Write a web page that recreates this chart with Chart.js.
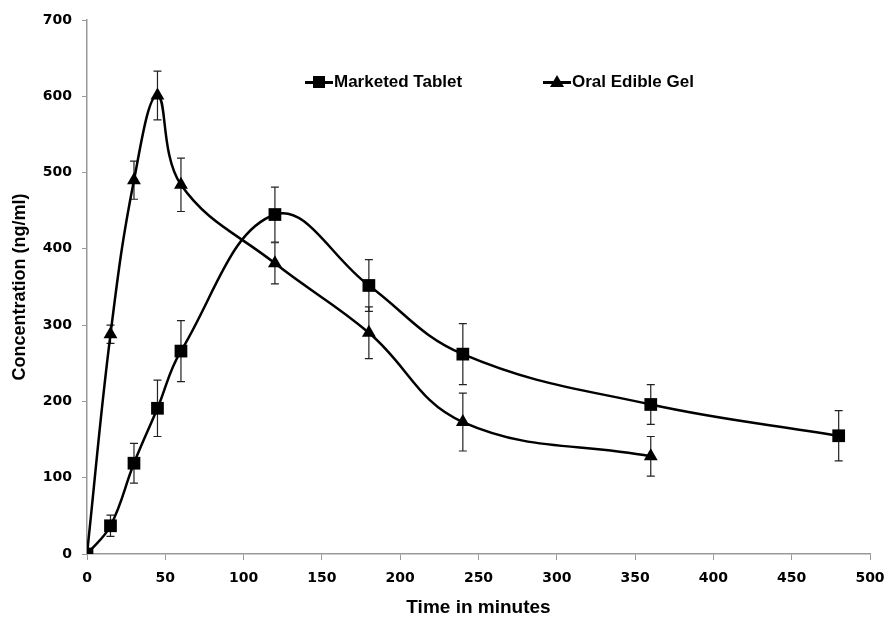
<!DOCTYPE html>
<html lang="en">
<head>
<meta charset="UTF-8">
<title>Concentration vs time</title>
<style>
    body, html {
        margin: 0;
        padding: 0;
        background: #fff;
    }
    .wrap {
        position: relative;
        width: 888px;
        height: 628px;
    }
    /* legend sits inside the plot like the excel one */
    .legend {
        position: absolute;
        top: 71px;
        left: 0;
        width: 888px;
        height: 22px;
        font-family: "Liberation Sans", Arial, sans-serif;
        font-weight: bold;
        font-size: 17px;
        color: #000;
    }
    .legend-item {
        position: absolute;
        top: 0;
        display: flex;
        align-items: center;
        height: 22px;
    }
    .legend-key {
        position: relative;
        width: 28px;
        height: 22px;
        margin-right: 1px;
    }
    .legend-key .ln {
        position: absolute;
        left: 0;
        right: 0;
        top: 10px;
        height: 3px;
        background: #000;
    }
    .legend-key .sq {
        position: absolute;
        left: 8px;
        top: 5px;
        width: 12px;
        height: 12px;
        background: #000;
    }
    .legend-key .tri {
        position: absolute;
        left: 7px;
        top: 4px;
        width: 0;
        height: 0;
        border-left: 7px solid transparent;
        border-right: 7px solid transparent;
        border-bottom: 12px solid #000;
    }
</style>
</head>
<body>
<div class="wrap">
    <canvas id="pkChart" width="888" height="628"></canvas>
    <div class="legend" id="legend"></div>
</div>

<script src="https://cdn.jsdelivr.net/npm/chart.js"></script>
<script>
    // data
    const seriesNames = ['Marketed Tablet', 'Oral Edible Gel'];

    const tabletTime = [0, 15, 30, 45, 60, 120, 180, 240, 360, 480];
    const tabletConc = [0, 37, 119, 191, 266, 445, 352, 262, 196, 155];
    const tabletErr  = [0, 14, 26, 37, 40, 36, 34, 40, 26, 33];

    const gelTime = [0, 15, 30, 45, 60, 120, 180, 240, 360];
    const gelConc = [0, 288, 490, 601, 484, 381, 290, 173, 128];
    const gelErr  = [0, 12, 25, 32, 35, 27, 34, 38, 26];

    const xTicks = [0, 50, 100, 150, 200, 250, 300, 350, 400, 450, 500];
    const yTicks = [0, 100, 200, 300, 400, 500, 600, 700];

    function toPoints(xs, ys) {
        return xs.map((x, i) => ({x: x, y: ys[i]}));
    }

    // draws the vertical error bars using the chart scales
    const errorBars = {
        id: 'errorBars',
        beforeDatasetsDraw(chart) {
            const ctx = chart.ctx;
            const xs = chart.scales.x;
            const ys = chart.scales.y;
            ctx.save();
            ctx.strokeStyle = '#222';
            ctx.lineWidth = 1.2;
            chart.data.datasets.forEach(ds => {
                ds.data.forEach((p, i) => {
                    const e = ds.errors[i];
                    if (!e) return;
                    const px = xs.getPixelForValue(p.x);
                    const top = ys.getPixelForValue(p.y + e);
                    const bot = ys.getPixelForValue(p.y - e);
                    ctx.beginPath();
                    ctx.moveTo(px, top);
                    ctx.lineTo(px, bot);
                    ctx.moveTo(px - 4, top);
                    ctx.lineTo(px + 4, top);
                    ctx.moveTo(px - 4, bot);
                    ctx.lineTo(px + 4, bot);
                    ctx.stroke();
                });
            });
            ctx.restore();
        }
    };

    const tickFont = {family: '"DejaVu Sans", Verdana, sans-serif', size: 14, weight: 'bold'};
    const titleFont = {family: '"Liberation Sans", Arial, sans-serif', size: 18, weight: 'bold'};

    const chart = new Chart(document.getElementById('pkChart'), {
        type: 'scatter',
        data: {
            datasets: [{
                label: seriesNames[0],
                data: toPoints(tabletTime, tabletConc),
                errors: tabletErr,
                showLine: true,
                borderColor: '#000',
                backgroundColor: '#000',
                borderWidth: 2.5,
                tension: 0.4,
                pointStyle: 'rect',
                pointRadius: 9,
                pointBorderWidth: 0
            }, {
                label: seriesNames[1],
                data: toPoints(gelTime, gelConc),
                errors: gelErr,
                showLine: true,
                borderColor: '#000',
                backgroundColor: '#000',
                borderWidth: 2.5,
                tension: 0.4,
                pointStyle: 'triangle',
                pointRadius: 8,
                pointBorderWidth: 0
            }]
        },
        options: {
            responsive: false,
            animation: false,
            layout: {padding: {left: 0, top: 20, right: 18, bottom: 0}},
            plugins: {
                legend: {display: false},
                tooltip: {enabled: false}
            },
            scales: {
                x: {
                    type: 'linear',
                    min: 0,
                    max: 500,
                    afterBuildTicks: s => { s.ticks = xTicks.map(v => ({value: v})); },
                    afterFit: s => { s.height = 74; s.paddingLeft = 0; s.paddingRight = 0; },
                    grid: {drawOnChartArea: false, color: '#999', tickLength: 6},
                    border: {color: '#999', width: 1.5},
                    ticks: {color: '#000', font: tickFont, padding: 10, maxRotation: 0},
                    title: {
                        display: true,
                        text: 'Time in minutes',
                        color: '#000',
                        font: {family: titleFont.family, size: 19, weight: 'bold'},
                        padding: {top: 0, bottom: 9}
                    }
                },
                y: {
                    min: 0,
                    max: 700,
                    afterBuildTicks: s => { s.ticks = yTicks.map(v => ({value: v})); },
                    afterFit: s => { s.width = 87; },
                    grid: {drawOnChartArea: false, color: '#999', tickLength: 5},
                    border: {color: '#999', width: 1.5},
                    ticks: {color: '#000', font: tickFont, padding: 10},
                    title: {
                        display: true,
                        text: 'Concentration (ng/ml)',
                        color: '#000',
                        font: titleFont,
                        padding: {top: 9, bottom: 0}
                    }
                }
            }
        },
        plugins: [errorBars]
    });

    // html legend, placed like the original
    const legendLeft = [305, 543];
    const legendShape = ['sq', 'tri'];
    const legendBox = document.getElementById('legend');
    seriesNames.forEach((name, i) => {
        const item = document.createElement('div');
        item.className = 'legend-item';
        item.style.left = legendLeft[i] + 'px';
        item.innerHTML = '<span class="legend-key"><span class="ln"></span><span class="' +
            legendShape[i] + '"></span></span><span>' + name + '</span>';
        legendBox.appendChild(item);
    });
</script>
</body>
</html>
